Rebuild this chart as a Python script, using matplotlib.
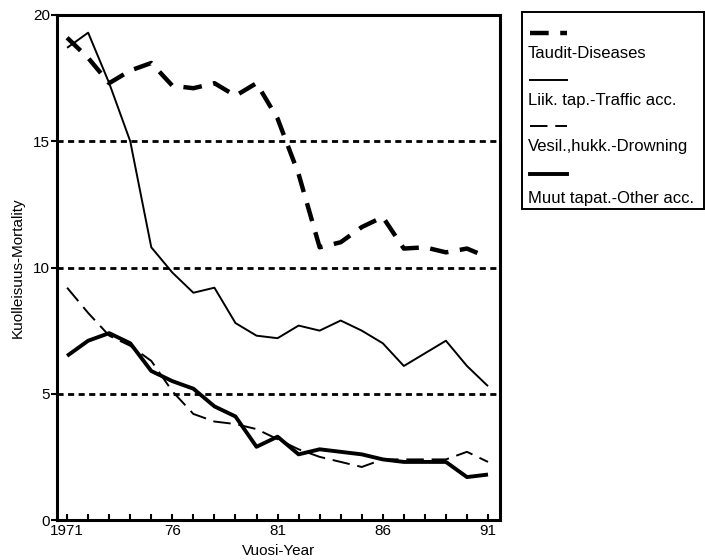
import matplotlib
matplotlib.use("Agg")
import matplotlib.pyplot as plt
from matplotlib.lines import Line2D

plt.rcParams['font.family'] = ['Liberation Sans', 'DejaVu Sans']

# mortality per 100 000, 1971-1991
years = list(range(1971, 1992))
diseases = [19.1, 18.3, 17.3, 17.8, 18.1, 17.2, 17.1, 17.3, 16.8, 17.3, 15.9,
            13.7, 10.8, 11.0, 11.6, 12.0, 10.75, 10.8, 10.6, 10.75, 10.4]
traffic = [18.7, 19.3, 17.3, 15.0, 10.8, 9.8, 9.0, 9.2, 7.8, 7.3, 7.2,
           7.7, 7.5, 7.9, 7.5, 7.0, 6.1, 6.6, 7.1, 6.1, 5.3]
drowning = [9.2, 8.2, 7.3, 6.9, 6.3, 5.1, 4.2, 3.9, 3.8, 3.6, 3.2,
            2.8, 2.5, 2.3, 2.1, 2.4, 2.4, 2.4, 2.4, 2.7, 2.3]
other = [6.5, 7.1, 7.4, 7.0, 5.9, 5.5, 5.2, 4.5, 4.1, 2.9, 3.3,
         2.6, 2.8, 2.7, 2.6, 2.4, 2.3, 2.3, 2.3, 1.7, 1.8]

labels = ["Taudit-Diseases", "Liik. tap.-Traffic acc.",
          "Vesil.,hukk.-Drowning", "Muut tapat.-Other acc."]
major_years = [1971, 1976, 1981, 1986, 1991]
major_labels = ["1971", "76", "81", "86", "91"]
grid_levels = [5, 10, 15]

styles = [
    dict(lw=3.2, ls=(0, (4.2, 2.6))),   # diseases
    dict(lw=1.4, ls='-'),              # traffic
    dict(lw=1.4, ls=(0, (9, 4))),      # drowning
    dict(lw=2.8, ls='-'),              # other
]

fig = plt.figure(figsize=(7.05, 5.6), dpi=100)
ax = fig.add_axes([57 / 705, 1 - 520 / 560, 443 / 705, 505 / 560])

for lvl in grid_levels:
    ax.axhline(lvl, color='black', lw=2.0, ls=(0, (2.2, 1.6)), zorder=1)

for vals, st in zip([diseases, traffic, drowning, other], styles):
    ax.plot(years, vals, color='black', solid_capstyle='butt',
            dash_capstyle='butt', zorder=3, **st)

ax.set_xlim(1970.52, 1991.57)
ax.set_ylim(0, 20)
ax.set_xticks(years, minor=True)
ax.set_xticks(major_years)
ax.set_xticklabels(major_labels, fontsize=11)
ax.set_yticks([0, 5, 10, 15, 20])
ax.set_yticklabels(["0", "5", "10", "15", "20"], fontsize=11)
ax.tick_params(axis='x', which='both', direction='in', length=4, width=1.5, pad=3)
ax.tick_params(axis='y', direction='out', length=4, width=1.5, pad=1)
for sp in ax.spines.values():
    sp.set_linewidth(2.2)

ax.set_ylabel("Kuolleisuus-Mortality", fontsize=11, labelpad=6)
ax.set_xlabel("Vuosi-Year", fontsize=11, labelpad=4)

# legend: line sample above each label
lax = fig.add_axes([522 / 705, 1 - 209 / 560, 182 / 705, 197 / 560])
lax.set_xlim(0, 182)
lax.set_ylim(197, 0)
lax.set_xticks([])
lax.set_yticks([])
for sp in lax.spines.values():
    sp.set_linewidth(1.4)
sample_y = [21, 68, 114, 162]
text_y = [41, 88, 134, 187]
for lab, st, sy, ty in zip(labels, styles, sample_y, text_y):
    lax.add_line(Line2D([8, 45], [sy, sy], color='black',
                        dash_capstyle='butt', **st))
    lax.text(6, ty, lab, fontsize=12, va='center', ha='left')

fig.savefig("out.png", dpi=100)
